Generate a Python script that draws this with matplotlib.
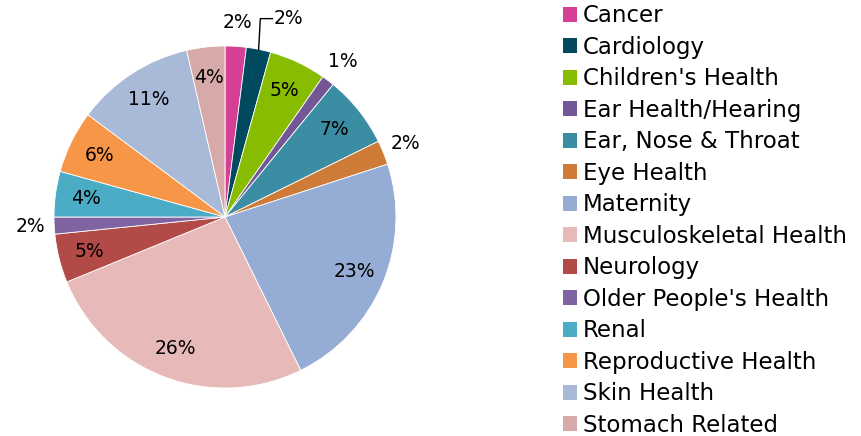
import numpy as np
import matplotlib.pyplot as plt
from matplotlib.patches import Patch

# data
categories = ["Cancer", "Cardiology", "Children's Health", "Ear Health/Hearing",
              "Ear, Nose & Throat", "Eye Health", "Maternity", "Musculoskeletal Health",
              "Neurology", "Older People's Health", "Renal", "Reproductive Health",
              "Skin Health", "Stomach Related"]
shares = [2.0, 2.3, 5.4, 1.2, 6.8, 2.3, 22.7, 26.1, 4.6, 1.6, 4.3, 5.9, 11.2, 3.6]
colors = ["#D63F96", "#01495E", "#88BC00", "#735696", "#3B8DA3", "#CD7B36",
          "#95ACD4", "#E8B9B9", "#B24A48", "#8064A2", "#4BACC6", "#F79646",
          "#A9BAD8", "#D8A9A9"]

FONT = "DejaVu Sans"

fig = plt.figure(figsize=(8.61, 4.36), dpi=100)
ax = fig.add_axes([54 / 861, 48 / 436, 342 / 861, 342 / 436])

wedges, _ = ax.pie(shares, colors=colors, startangle=90, counterclock=False,
                   radius=1.0, wedgeprops=dict(edgecolor="white", linewidth=0.6))
ax.set_xlim(-1, 1)
ax.set_ylim(-1, 1)
ax.set_aspect("equal")
ax.axis("off")

# labels: big slices inside, small ones outside
total = sum(shares)
cum = 0.0
for name, v in zip(categories, shares):
    mid = (cum + v / 2) / total * 360.0
    cum += v
    th = np.deg2rad(90 - mid)
    lab = f"{round(v / total * 100):d}%"
    if name == "Cardiology":
        # leader line
        ex, ey = np.cos(th), np.sin(th)
        ax.plot([ex, ex + 0.01, ex + 0.08], [ey, 1.16, 1.16], color="black", lw=1, clip_on=False)
        ax.text(ex + 0.09, 1.16, lab, ha="left", va="center", fontsize=13.5, family=FONT)
    elif v < 2.5:
        ax.text(1.14 * np.cos(th), 1.14 * np.sin(th), lab, ha="center", va="center",
                fontsize=13.5, family=FONT)
    else:
        ax.text(0.82 * np.cos(th), 0.82 * np.sin(th), lab, ha="center", va="center",
                fontsize=13.5, family=FONT)

handles = [Patch(facecolor=c, edgecolor="none") for c in colors]
fig.legend(handles, categories, loc="upper left", bbox_to_anchor=(542 / 861, 1.037),
           frameon=False, prop={"family": FONT, "size": 16.5},
           handlelength=0.62, handleheight=0.62, handletextpad=0.25, labelspacing=0.37)

fig.savefig("out.png", dpi=100)
